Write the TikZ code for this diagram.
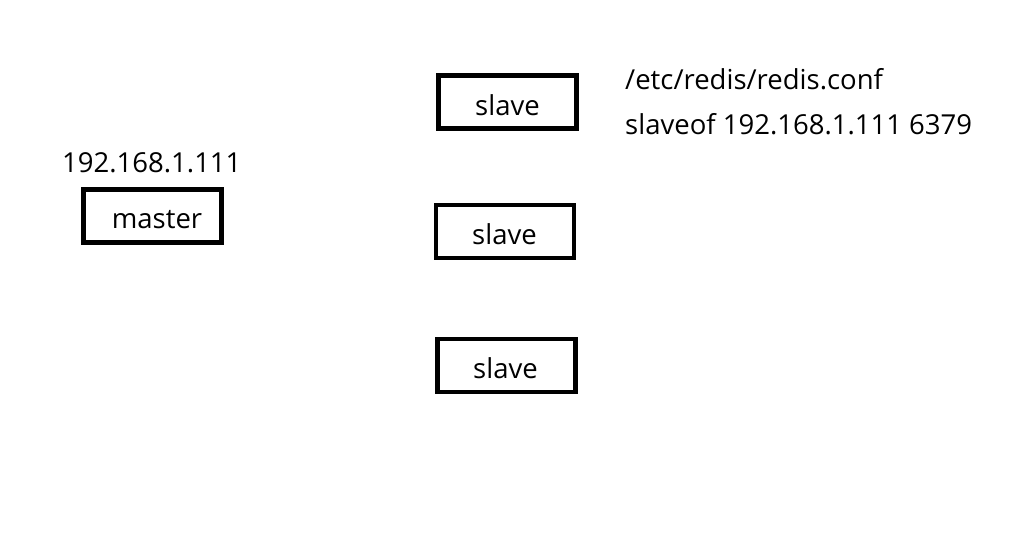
\documentclass[tikz,border=0pt]{standalone}
\usepackage{fontspec}
\setmainfont{Open Sans}
\begin{document}
\begin{tikzpicture}[x=1pt,y=-1pt,
  box/.style={draw=black,line width=4.5pt,minimum width=138pt,minimum height=53pt,inner sep=0pt},
  txt/.style={inner sep=0pt,font=\fontsize{27.5}{32}\selectfont},
  lbl/.style={inner sep=0pt,anchor=base west,font=\fontsize{27.5}{32}\selectfont}]
\useasboundingbox (0,0) rectangle (1018,541);
\node[box] (master) at (152.5,216) {};
\node[txt] (mastert) at (157,219.5) {master};
\node[box] (s1) at (507.5,102) {};
\node[txt] (s1t) at (507.5,105) {slave};
\node[box] (s2) at (505,231.5) {};
\node[txt] (s2t) at (504.5,234.5) {slave};
\node[box] (s3) at (506.5,365.5) {};
\node[txt] (s3t) at (505.5,368) {slave};
\node[lbl] (ip) at (62,172) {192.168.1.111};
\node[lbl] (conf) at (625,89) {/etc/redis/redis.conf};
\node[lbl] (cmd) at (625,134) {slaveof 192.168.1.111 6379};
\end{tikzpicture}
\end{document}
